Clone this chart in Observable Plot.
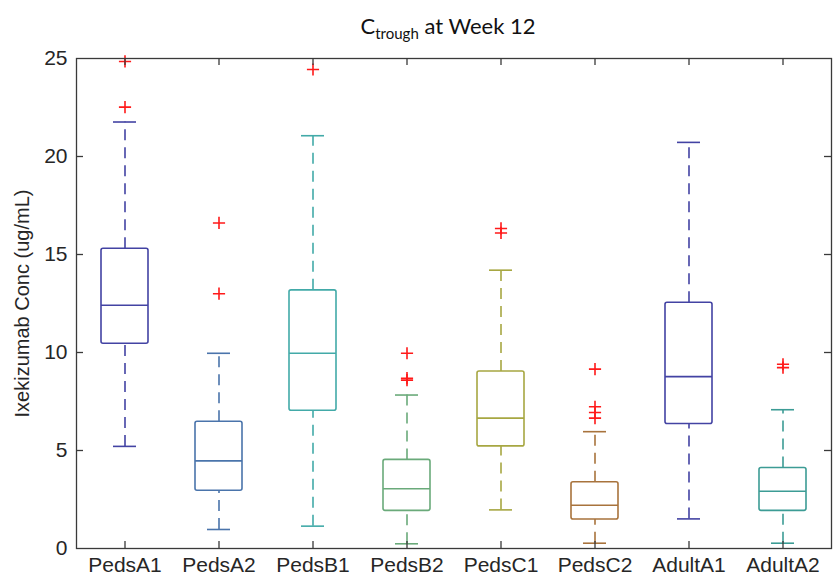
<!DOCTYPE html>
<html>
<head>
<meta charset="utf-8">
<script src="https://cdn.jsdelivr.net/npm/d3@7"></script>
<script src="https://cdn.jsdelivr.net/npm/@observablehq/plot@0.6"></script>
<style>
  html, body { margin: 0; padding: 0; background: #fff; }
  #wrap { position: relative; width: 833px; height: 584px; }
  #wrap svg { font-family: "Liberation Sans", Arial, sans-serif; }
  #title { position: absolute; left: 0; width: 896px; top: 15px; text-align: center;
           font-family: Lato, "Open Sans", sans-serif; font-size: 22px; color: #111; line-height: 1; }
  #title sub { font-size: 15px; vertical-align: -5px; line-height: 0; }
</style>
</head>
<body>
<div id="wrap">
  <div id="title">C<sub>trough</sub> at Week 12</div>
</div>
<script>
const groups = ["PedsA1", "PedsA2", "PedsB1", "PedsB2", "PedsC1", "PedsC2", "AdultA1", "AdultA2"];
const whiskerLow  = [5.21, 0.97, 1.14, 0.24, 1.97, 0.27, 1.51, 0.27];
const q1          = [10.45, 2.95, 7.03, 1.92, 5.21, 1.48, 6.35, 1.92];
const median      = [12.41, 4.47, 9.96, 3.05, 6.65, 2.21, 8.77, 2.92];
const q3          = [15.29, 6.47, 13.17, 4.52, 9.03, 3.38, 12.54, 4.11];
const whiskerHigh = [21.76, 9.96, 21.06, 7.83, 14.2, 5.96, 20.72, 7.08];
const outliers = [
  [24.85, 22.52],
  [16.61, 13.0],
  [24.44],
  [9.96, 8.69, 8.59],
  [16.33, 16.1],
  [9.15, 7.23, 6.94, 6.65],
  [],
  [9.40, 9.23]
];
const colors = ["#4343a3", "#4a74ab", "#42aaa8", "#6aaa7a", "#a7a742", "#a8733c", "#4343a3", "#3c9c95"];
const yTicks = [0, 5, 10, 15, 20, 25];
const yLabel = "Ixekizumab Conc (ug/mL)";

const rows = groups.map((g, i) => ({
  group: g, lo: whiskerLow[i], q1: q1[i], med: median[i], q3: q3[i], hi: whiskerHigh[i], color: colors[i]
}));
const outRows = groups.flatMap((g, i) => outliers[i].map(v => ({group: g, value: v})));

const W = 833, H = 584;
const mL = 76, mR = 2, mT = 58, mB = 36;
const fw = W - mL - mR, fh = H - mT - mB;
const axisColor = "#3a3a3a";
const txt = "#262626";
const font = "Liberation Sans, Arial, sans-serif";

const chart = Plot.plot({
  width: W, height: H,
  marginLeft: mL, marginRight: mR, marginTop: mT, marginBottom: mB,
  style: {background: "white", overflow: "visible"},
  x: {type: "band", domain: groups, paddingInner: 0.5, paddingOuter: 0.25, axis: null},
  y: {domain: [0, 25], axis: null},
  color: {type: "identity"},
  marks: [
    Plot.ruleX(rows, {x: "group", y1: "q3", y2: "hi", stroke: "color", strokeWidth: 1.6, strokeDasharray: "11,7"}),
    Plot.ruleX(rows, {x: "group", y1: "lo", y2: "q1", stroke: "color", strokeWidth: 1.6, strokeDasharray: "11,7"}),
    Plot.tickY(rows, {x: "group", y: "hi", stroke: "color", strokeWidth: 1.6, insetLeft: 12, insetRight: 12}),
    Plot.tickY(rows, {x: "group", y: "lo", stroke: "color", strokeWidth: 1.6, insetLeft: 12, insetRight: 12}),
    Plot.barY(rows, {x: "group", y1: "q1", y2: "q3", fill: "white", stroke: "color", strokeWidth: 1.6, rx: 2}),
    Plot.tickY(rows, {x: "group", y: "med", stroke: "color", strokeWidth: 1.6}),
    Plot.dot(outRows, {x: "group", y: "value", symbol: "plus", stroke: "#ff1a1a", strokeWidth: 1.6, r: 4}),
    Plot.frame({stroke: axisColor, strokeWidth: 1.3}),
    Plot.tickY(yTicks.slice(1, -1), {y: d => d, stroke: axisColor, strokeWidth: 1.3, insetRight: fw - 7}),
    Plot.tickY(yTicks.slice(1, -1), {y: d => d, stroke: axisColor, strokeWidth: 1.3, insetLeft: fw - 7}),
    Plot.tickX(groups, {x: d => d, stroke: axisColor, strokeWidth: 1.3, insetBottom: fh - 7}),
    Plot.tickX(groups, {x: d => d, stroke: axisColor, strokeWidth: 1.3, insetTop: fh - 7}),
    Plot.axisY(yTicks, {anchor: "left", tickSize: 0, tickPadding: 9, fontSize: 21, fontFamily: font, fill: txt, label: null}),
    Plot.axisX({anchor: "bottom", tickSize: 0, tickPadding: 9, fontSize: 21, fontFamily: font, fill: txt, label: null}),
    Plot.text([yLabel], {frameAnchor: "left", textAnchor: "middle", rotate: -90, dx: -54, fontSize: 20, fontFamily: font, fill: txt})
  ]
});
document.getElementById("wrap").prepend(chart);
</script>
</body>
</html>
